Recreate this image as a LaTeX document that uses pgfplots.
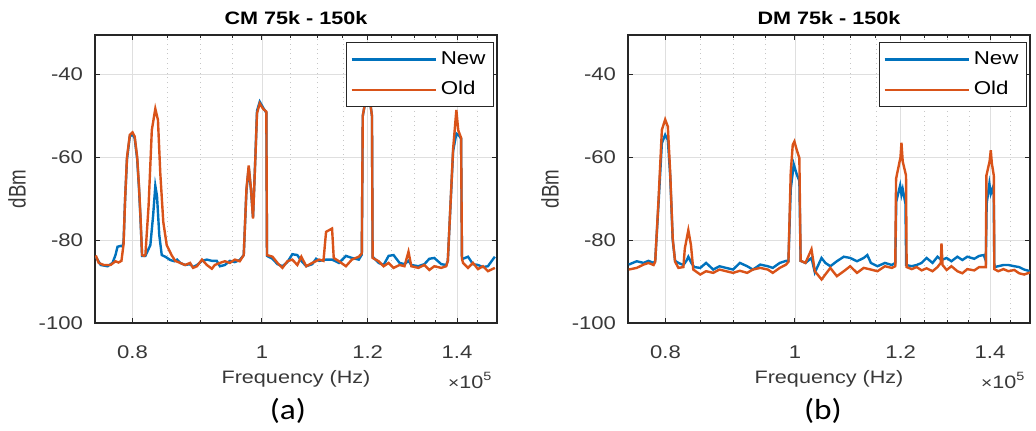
\documentclass[border=0pt]{standalone}
\usepackage{fontspec}
\setmainfont{Liberation Sans}[FakeStretch=1.2]
\newfontfamily\condsans{Liberation Sans}[FakeStretch=0.78]
\newfontfamily\calibri{Carlito}[FakeStretch=1.15]
\usepackage{pgfplots}
\pgfplotsset{compat=1.18}
\definecolor{mblue}{rgb}{0,0.447,0.741}
\definecolor{morange}{rgb}{0.85,0.325,0.098}
\definecolor{axgray}{gray}{0.15}
\definecolor{txtgray}{gray}{0.22}

\begin{document}
\begin{tikzpicture}
\useasboundingbox (0,0) rectangle (518pt,215pt);

% ---------------- (a) CM ----------------
\begin{semilogxaxis}[
  scale only axis, width=201pt, height=144pt,
  xmin=0.75, xmax=1.5, ymin=-100, ymax=-30.5,
  xtick={0.8,1,1.2,1.4}, xticklabels={0.8,1,1.2,1.4},
  minor xtick={0.75,0.85,0.9,0.95,1.05,1.1,1.15,1.25,1.3,1.35,1.45,1.5},
  ytick={-100,-80,-60,-40}, yticklabels={-100,-80,-60,-40},
  grid=both,
  major grid style={gray!25, line width=0.4pt},
  minor grid style={gray!45, dotted, line width=0.4pt},
  tick align=inside,
  major tick length=2.5pt, minor tick length=1.4pt,
  axis line style={axgray, line width=0.6pt},
  tick style={axgray, line width=0.5pt},
  every tick label/.append style={font=\fontsize{9.2}{11}\selectfont, text=txtgray},
  xticklabel style={anchor=center, yshift=-14.5pt},
  yticklabel style={anchor=east, xshift=-2.5pt},
  xlabel={Frequency (Hz)},
  xlabel style={at={(axis description cs:0.5,-0.194)}, anchor=center, font=\fontsize{9}{11}\selectfont, text=txtgray},
  legend style={at={(axis description cs:1,1)}, xshift=-1.5pt, yshift=-3.5pt, anchor=north east,
    draw=axgray, line width=0.6pt, fill=white, font=\fontsize{9.3}{11}\selectfont,
    row sep=3pt, inner xsep=2pt, inner ysep=2.5pt, cells={anchor=west}},
  legend image code/.code={\draw[#1, line width=1.1pt] (0pt,0pt) -- (42pt,0pt);},
  at={(47.5pt,53.5pt)}, anchor=south west,
  extra description/.code={
    \node[font=\bfseries\fontsize{9}{11}\selectfont] at (axis description cs:0.5,1.059) {CM 75k - 150k};
    \node[rotate=90, font=\condsans\fontsize{12}{14}\selectfont, text=txtgray] at (axis description cs:-0.194,0.465) {dBm};
    \node[anchor=east, font=\fontsize{9}{11}\selectfont, text=txtgray] at (axis description cs:1.006,-0.2) {{\fontsize{8}{9}\selectfont ×}10\textsuperscript{5}};
    \node[font=\calibri\fontsize{14.5}{16}\selectfont] at (axis description cs:0.48,-0.305) {(a)};
  }]
\addplot[mblue, line width=1.2pt] coordinates {
(0.7509,-84.0) (0.7574,-86.0) (0.7665,-86.3) (0.7730,-85.5) (0.7770,-83.6)
(0.7797,-81.6) (0.7838,-81.4) (0.7864,-81.5) (0.7878,-80.5) (0.7900,-70.0)
(0.7926,-60.5) (0.7964,-55.0) (0.8000,-54.5) (0.8030,-55.4) (0.8065,-60.5)
(0.8090,-67.5) (0.8110,-74.5) (0.8133,-83.8) (0.8180,-83.8) (0.8250,-81.2)
(0.8290,-74.0) (0.8321,-66.9) (0.8345,-69.3) (0.8378,-78.8) (0.8414,-83.6)
(0.8465,-84.0) (0.8538,-84.8) (0.8600,-85.1) (0.8640,-84.7) (0.8686,-85.5)
(0.8760,-86.0) (0.8835,-85.8) (0.8881,-86.5) (0.8941,-86.0) (0.9018,-85.0)
(0.9095,-84.7) (0.9173,-85.0) (0.9251,-85.0) (0.9301,-86.3) (0.9381,-86.0)
(0.9462,-85.0) (0.9543,-85.3) (0.9625,-84.8) (0.9692,-83.6) (0.9737,-68.0)
(0.9775,-62.5) (0.9814,-68.0) (0.9848,-74.5) (0.9889,-59.5) (0.9916,-48.8)
(0.9963,-46.6) (1.0019,-48.0) (1.0077,-49.3) (1.0088,-83.8) (1.0184,-84.5)
(1.0272,-85.8) (1.0360,-86.3) (1.0449,-85.3) (1.0539,-83.4) (1.0630,-83.6)
(1.0703,-85.0) (1.0795,-86.3) (1.0906,-85.8) (1.0980,-84.5) (1.1038,-85.0)
(1.1170,-84.7) (1.1286,-84.7) (1.1422,-85.5) (1.1559,-83.8) (1.1678,-84.3)
(1.1819,-84.7) (1.1880,-83.5) (1.1900,-50.0) (1.1940,-47.5) (1.2000,-47.3)
(1.2060,-47.5) (1.2090,-50.0) (1.2104,-84.0) (1.2231,-85.5) (1.2336,-86.0)
(1.2442,-83.8) (1.2549,-83.6) (1.2679,-85.5) (1.2788,-85.8) (1.2876,-85.0)
(1.2940,-86.0) (1.3098,-86.3) (1.3234,-85.8) (1.3347,-84.5) (1.3462,-84.3)
(1.3625,-85.8) (1.3742,-86.0) (1.3780,-85.0) (1.3907,-58.5) (1.3985,-54.3)
(1.4050,-54.8) (1.4099,-55.5) (1.4120,-84.3) (1.4147,-84.5) (1.4269,-84.0)
(1.4392,-85.8) (1.4516,-86.0) (1.4641,-86.5) (1.4767,-86.3) (1.4944,-84.0)
};
\addlegendentry{New}
\addplot[morange, line width=1.2pt] coordinates {
(0.7509,-83.7) (0.7548,-85.5) (0.7613,-86.0) (0.7704,-86.0) (0.7770,-85.1)
(0.7810,-85.4) (0.7850,-85.0) (0.7878,-81.0) (0.7900,-70.0) (0.7926,-60.0)
(0.7964,-54.6) (0.8000,-54.0) (0.8030,-55.0) (0.8065,-60.0) (0.8090,-67.0)
(0.8110,-74.0) (0.8133,-83.6) (0.8160,-83.8) (0.8180,-83.5) (0.8225,-71.7)
(0.8271,-53.4) (0.8321,-48.3) (0.8359,-51.0) (0.8392,-63.7) (0.8436,-75.6)
(0.8486,-81.2) (0.8557,-83.6) (0.8611,-85.0) (0.8686,-85.5) (0.8760,-86.0)
(0.8835,-85.5) (0.8881,-86.7) (0.8941,-86.3) (0.9018,-84.7) (0.9095,-86.0)
(0.9173,-86.9) (0.9220,-86.0) (0.9301,-85.5) (0.9381,-85.1) (0.9462,-85.5)
(0.9543,-84.7) (0.9625,-85.1) (0.9692,-83.6) (0.9737,-67.7) (0.9775,-62.0)
(0.9814,-67.7) (0.9848,-74.8) (0.9889,-59.8) (0.9916,-49.4) (0.9963,-47.0)
(1.0019,-48.3) (1.0077,-49.0) (1.0088,-83.6) (1.0184,-84.0) (1.0272,-85.5)
(1.0360,-86.7) (1.0449,-85.1) (1.0539,-84.7) (1.0630,-86.0) (1.0703,-84.0)
(1.0795,-86.3) (1.0906,-85.5) (1.1038,-84.7) (1.1120,-85.0) (1.1170,-78.0)
(1.1286,-77.2) (1.1319,-84.3) (1.1422,-85.1) (1.1559,-86.3) (1.1678,-84.7)
(1.1819,-84.0) (1.1880,-83.2) (1.1900,-50.0) (1.1940,-47.3) (1.2000,-47.0)
(1.2060,-47.3) (1.2090,-50.0) (1.2104,-84.3) (1.2231,-85.1) (1.2336,-86.3)
(1.2442,-85.5) (1.2549,-86.7) (1.2679,-86.0) (1.2788,-86.3) (1.2876,-82.8)
(1.2940,-86.3) (1.3098,-86.7) (1.3234,-86.0) (1.3347,-87.2) (1.3462,-86.3)
(1.3625,-86.7) (1.3742,-86.3) (1.3780,-85.0) (1.3907,-58.0) (1.3985,-48.6)
(1.4030,-53.5) (1.4099,-55.3) (1.4120,-84.5) (1.4147,-85.5) (1.4269,-86.7)
(1.4392,-85.5) (1.4516,-87.0) (1.4641,-86.3) (1.4767,-87.5) (1.4944,-86.7)
};
\addlegendentry{Old}
\end{semilogxaxis}

% ---------------- (b) DM ----------------
\begin{semilogxaxis}[
  scale only axis, width=201pt, height=144pt,
  xmin=0.75, xmax=1.5, ymin=-100, ymax=-30.5,
  xtick={0.8,1,1.2,1.4}, xticklabels={0.8,1,1.2,1.4},
  minor xtick={0.75,0.85,0.9,0.95,1.05,1.1,1.15,1.25,1.3,1.35,1.45,1.5},
  ytick={-100,-80,-60,-40}, yticklabels={-100,-80,-60,-40},
  grid=both,
  major grid style={gray!25, line width=0.4pt},
  minor grid style={gray!45, dotted, line width=0.4pt},
  tick align=inside,
  major tick length=2.5pt, minor tick length=1.4pt,
  axis line style={axgray, line width=0.6pt},
  tick style={axgray, line width=0.5pt},
  every tick label/.append style={font=\fontsize{9.2}{11}\selectfont, text=txtgray},
  xticklabel style={anchor=center, yshift=-14.5pt},
  yticklabel style={anchor=east, xshift=-2.5pt},
  xlabel={Frequency (Hz)},
  xlabel style={at={(axis description cs:0.5,-0.194)}, anchor=center, font=\fontsize{9}{11}\selectfont, text=txtgray},
  legend style={at={(axis description cs:1,1)}, xshift=-1.5pt, yshift=-3.5pt, anchor=north east,
    draw=axgray, line width=0.6pt, fill=white, font=\fontsize{9.3}{11}\selectfont,
    row sep=3pt, inner xsep=2pt, inner ysep=2.5pt, cells={anchor=west}},
  legend image code/.code={\draw[#1, line width=1.1pt] (0pt,0pt) -- (42pt,0pt);},
  at={(314pt,53.5pt)}, anchor=south west,
  extra description/.code={
    \node[font=\bfseries\fontsize{9}{11}\selectfont] at (axis description cs:0.5,1.059) {DM 75k - 150k};
    \node[rotate=90, font=\condsans\fontsize{12}{14}\selectfont, text=txtgray] at (axis description cs:-0.194,0.465) {dBm};
    \node[anchor=east, font=\fontsize{9}{11}\selectfont, text=txtgray] at (axis description cs:1.006,-0.2) {{\fontsize{8}{9}\selectfont ×}10\textsuperscript{5}};
    \node[font=\calibri\fontsize{14.5}{16}\selectfont] at (axis description cs:0.485,-0.305) {(b)};
  }]
\addplot[mblue, line width=1.2pt] coordinates {
(0.7509,-85.9) (0.7613,-85.1) (0.7704,-85.5) (0.7770,-85.0) (0.7838,-85.5)
(0.7860,-85.0) (0.7905,-71.0) (0.7951,-56.6) (0.7997,-54.6) (0.8032,-55.8)
(0.8065,-64.5) (0.8100,-80.0) (0.8133,-85.0) (0.8180,-85.5) (0.8250,-86.0)
(0.8293,-85.0) (0.8321,-84.0) (0.8364,-85.5) (0.8407,-86.5) (0.8494,-86.7)
(0.8580,-85.5) (0.8686,-87.1) (0.8780,-86.3) (0.8881,-86.7) (0.8988,-87.1)
(0.9095,-85.5) (0.9210,-86.3) (0.9301,-87.1) (0.9420,-85.9) (0.9543,-86.3)
(0.9625,-86.7) (0.9742,-85.5) (0.9850,-85.0) (0.9889,-85.0) (0.9928,-67.7)
(0.9980,-61.7) (1.0031,-64.1) (1.0077,-65.7) (1.0099,-85.0) (1.0184,-85.5)
(1.0290,-84.3) (1.0350,-87.8) (1.0470,-84.3) (1.0539,-85.5) (1.0630,-86.3)
(1.0750,-85.1) (1.0880,-84.0) (1.1000,-84.3) (1.1130,-85.1) (1.1260,-84.3)
(1.1330,-83.6) (1.1400,-85.5) (1.1530,-86.3) (1.1680,-85.5) (1.1819,-86.0)
(1.1890,-85.5) (1.1910,-70.7) (1.1990,-66.8) (1.2017,-69.0) (1.2043,-67.7)
(1.2100,-71.2) (1.2115,-86.0) (1.2231,-86.3) (1.2336,-86.0) (1.2442,-85.5)
(1.2549,-84.3) (1.2679,-85.5) (1.2788,-84.0) (1.2876,-84.8) (1.2990,-84.3)
(1.3098,-85.1) (1.3234,-84.0) (1.3347,-84.8) (1.3462,-84.0) (1.3625,-84.5)
(1.3742,-83.8) (1.3850,-83.6) (1.3900,-85.0) (1.3920,-71.2) (1.3985,-66.4)
(1.4019,-68.8) (1.4060,-67.6) (1.4090,-69.0) (1.4105,-86.5) (1.4200,-86.3)
(1.4330,-86.0) (1.4450,-86.0) (1.4600,-86.3) (1.4720,-86.5) (1.4850,-87.1)
(1.5000,-87.5)
};
\addlegendentry{New}
\addplot[morange, line width=1.2pt] coordinates {
(0.7509,-87.1) (0.7613,-86.7) (0.7704,-85.9) (0.7770,-85.5) (0.7838,-86.0)
(0.7860,-85.2) (0.7905,-70.1) (0.7951,-53.4) (0.7997,-50.9) (0.8032,-52.6)
(0.8065,-63.7) (0.8100,-79.6) (0.8133,-85.2) (0.8180,-86.7) (0.8250,-86.5)
(0.8271,-82.0) (0.8321,-77.6) (0.8359,-81.2) (0.8392,-87.1) (0.8494,-88.3)
(0.8580,-87.5) (0.8686,-87.9) (0.8780,-87.1) (0.8881,-87.5) (0.8988,-87.9)
(0.9095,-87.4) (0.9210,-87.9) (0.9301,-87.1) (0.9420,-86.7) (0.9543,-87.1)
(0.9625,-87.9) (0.9742,-86.7) (0.9850,-85.9) (0.9889,-85.2) (0.9928,-63.7)
(0.9963,-57.0) (0.9991,-56.2) (1.0031,-58.2) (1.0077,-60.2) (1.0099,-85.0)
(1.0184,-85.5) (1.0290,-82.2) (1.0350,-87.5) (1.0470,-89.5) (1.0539,-88.3)
(1.0630,-86.7) (1.0750,-88.7) (1.0880,-87.5) (1.1000,-86.3) (1.1130,-87.9)
(1.1260,-86.7) (1.1400,-87.1) (1.1530,-87.5) (1.1680,-86.3) (1.1819,-86.7)
(1.1890,-86.3) (1.1906,-65.2) (1.1997,-60.0) (1.2017,-56.5) (1.2043,-61.0)
(1.2112,-64.4) (1.2125,-86.5) (1.2231,-87.0) (1.2336,-86.5) (1.2442,-87.3)
(1.2549,-86.8) (1.2679,-87.5) (1.2788,-86.5) (1.2860,-85.5) (1.2876,-80.8)
(1.2900,-86.0) (1.2990,-87.2) (1.3098,-86.3) (1.3234,-87.5) (1.3347,-88.0)
(1.3462,-87.0) (1.3625,-87.3) (1.3742,-86.5) (1.3900,-86.5) (1.3914,-64.4)
(1.3990,-61.0) (1.4019,-58.3) (1.4045,-61.5) (1.4092,-64.4) (1.4105,-87.0)
(1.4200,-87.5) (1.4330,-87.0) (1.4450,-87.5) (1.4600,-87.2) (1.4720,-88.0)
(1.4850,-88.3) (1.5000,-87.8)
};
\addlegendentry{Old}
\end{semilogxaxis}
\end{tikzpicture}
\end{document}
